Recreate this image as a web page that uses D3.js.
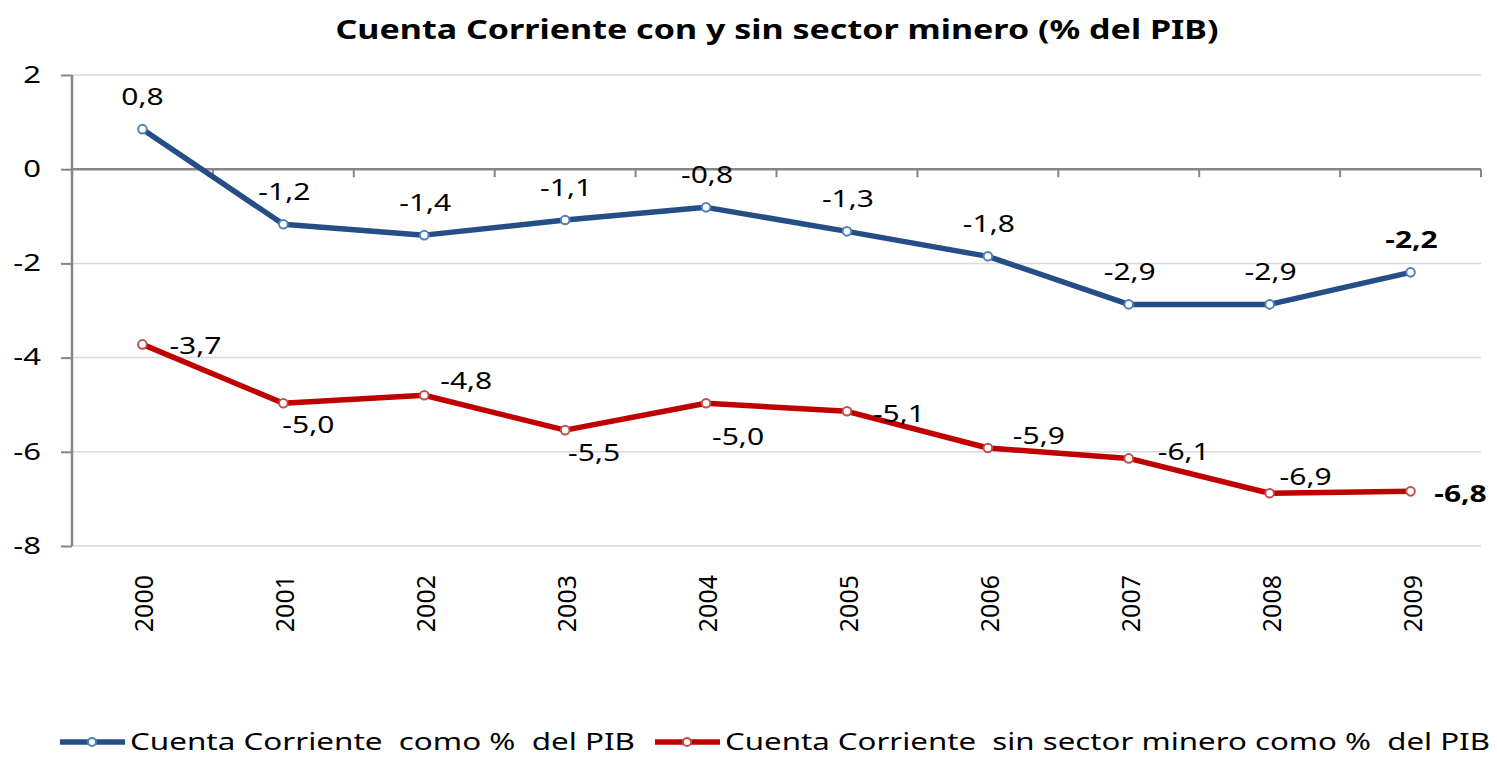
<!DOCTYPE html>
<html>
<head>
<meta charset="utf-8">
<script src="https://cdn.jsdelivr.net/npm/d3@7"></script>
<style>
  body { margin: 0; background: #fff; }
  text { font-family: 'Noto Sans', sans-serif; }
</style>
</head>
<body>
<script>
// data
let years = ['2000', '2001', '2002', '2003', '2004', '2005', '2006', '2007', '2008', '2009'];
let conMinero = [0.85, -1.17, -1.40, -1.08, -0.81, -1.32, -1.85, -2.87, -2.87, -2.19];
let conLabels = ['0,8', '-1,2', '-1,4', '-1,1', '-0,8', '-1,3', '-1,8', '-2,9', '-2,9', '-2,2'];
let sinMinero = [-3.72, -4.97, -4.80, -5.54, -4.97, -5.14, -5.92, -6.14, -6.88, -6.84];
let sinLabels = ['-3,7', '-5,0', '-4,8', '-5,5', '-5,0', '-5,1', '-5,9', '-6,1', '-6,9', '-6,8'];
let yTicks = [2, 0, -2, -4, -6, -8];
let seriesNames = ['Cuenta Corriente  como %  del PIB', 'Cuenta Corriente  sin sector minero como %  del PIB'];

let width = 1497, height = 757;
let svg = d3.select('body').append('svg').attr('width', width).attr('height', height);

let x = d3.scalePoint().domain(years).range([72, 1481]).padding(0.5);
let y = d3.scaleLinear().domain([-8, 2]).range([546, 75]);
let step = x.step();

// widen text the way the original (narrow font, stretched picture) looks
function stretch(sel, k) {
  sel.each(function() {
    let w = this.getComputedTextLength();
    d3.select(this).attr('textLength', w * k).attr('lengthAdjust', 'spacingAndGlyphs');
  });
}

// title
svg.append('text')
  .attr('x', 777).attr('y', 39)
  .attr('text-anchor', 'middle')
  .attr('font-size', 27).attr('font-weight', 'bold')
  .attr('textLength', 883).attr('lengthAdjust', 'spacingAndGlyphs')
  .text('Cuenta Corriente con y sin sector minero (% del PIB)');

// gridlines
svg.append('g').selectAll('line').data(yTicks.filter(d => d !== 0)).enter().append('line')
  .attr('x1', 72).attr('x2', 1481)
  .attr('y1', d => y(d)).attr('y2', d => y(d))
  .attr('stroke', '#d9d9d9').attr('stroke-width', 1.5);

// y axis
let yAxis = svg.append('g').attr('transform', 'translate(72,0)')
  .call(d3.axisLeft(y).tickValues(yTicks).tickSize(11).tickPadding(20).tickFormat(d => d));
yAxis.select('.domain').attr('stroke', '#868686').attr('stroke-width', 2.5).attr('d', 'M0,75V546');
yAxis.selectAll('.tick line').attr('stroke', '#868686').attr('stroke-width', 2);
yAxis.selectAll('.tick text').attr('font-size', 23).attr('fill', '#000').attr('font-family', 'Noto Sans')
  .call(stretch, 1.35);

// zero line with category ticks
svg.append('line')
  .attr('x1', 72).attr('x2', 1481)
  .attr('y1', y(0)).attr('y2', y(0))
  .attr('stroke', '#868686').attr('stroke-width', 2.5);
svg.append('g').selectAll('line').data(years).enter().append('line')
  .attr('x1', d => x(d) + step / 2).attr('x2', d => x(d) + step / 2)
  .attr('y1', y(0)).attr('y2', y(0) + 8)
  .attr('stroke', '#868686').attr('stroke-width', 2);

// year labels
svg.append('g').selectAll('text').data(years).enter().append('text')
  .attr('transform', d => 'translate(' + (x(d) + 11) + ',575) rotate(-90)')
  .attr('text-anchor', 'end')
  .attr('font-family', 'Liberation Sans')
  .attr('font-size', 25)
  .text(d => d);

let series = [
  {vals: conMinero, labels: conLabels, line: '#254e86', mark: '#4f81bd'},
  {vals: sinMinero, labels: sinLabels, line: '#c00000', mark: '#c0504d'}
];

let line = d3.line().x((d, i) => x(years[i])).y(d => y(d));

series.forEach(function(s) {
  svg.append('path').datum(s.vals)
    .attr('d', line)
    .attr('fill', 'none')
    .attr('stroke', s.line)
    .attr('stroke-width', 5.5)
    .attr('stroke-linejoin', 'round');
  svg.append('g').selectAll('circle').data(s.vals).enter().append('circle')
    .attr('cx', (d, i) => x(years[i])).attr('cy', d => y(d))
    .attr('r', 4.3)
    .attr('fill', '#fff')
    .attr('stroke', s.mark).attr('stroke-width', 2);
});

// blue labels: all above
svg.append('g').selectAll('text').data(conMinero).enter().append('text')
  .attr('x', (d, i) => x(years[i]) + (i === 0 ? 0 : 1))
  .attr('y', d => y(d) - 24)
  .attr('text-anchor', 'middle')
  .attr('font-size', 24)
  .attr('font-weight', (d, i) => i === 9 ? 'bold' : 'normal')
  .text((d, i) => conLabels[i])
  .call(stretch, 1.25);

// red labels sit in different spots
let redDx = [53, 25, 42, 29, 32, 52, 51, 55, 36, 50];
let redDy = [10, 30, -6, 31, 42, 11, -4, 2, -8, 11];
svg.append('g').selectAll('text').data(sinMinero).enter().append('text')
  .attr('x', (d, i) => x(years[i]) + redDx[i])
  .attr('y', (d, i) => y(d) + redDy[i])
  .attr('text-anchor', 'middle')
  .attr('font-size', 24)
  .attr('font-weight', (d, i) => i === 9 ? 'bold' : 'normal')
  .text((d, i) => sinLabels[i])
  .call(stretch, 1.25);

// legend
let legX = [60, 655];
let legW = [505, 765];
let legend = svg.append('g').selectAll('g').data(series).enter().append('g')
  .attr('transform', (d, i) => 'translate(' + legX[i] + ',742)');
legend.append('line')
  .attr('x1', 0).attr('x2', 65).attr('y1', 0).attr('y2', 0)
  .attr('stroke', d => d.line).attr('stroke-width', 5.5);
legend.append('circle')
  .attr('cx', 32).attr('cy', 0).attr('r', 4)
  .attr('fill', '#fff').attr('stroke', d => d.mark).attr('stroke-width', 2);
legend.append('text')
  .attr('x', 70).attr('y', 8)
  .attr('font-size', 24)
  .style('white-space', 'pre')
  .attr('textLength', (d, i) => legW[i]).attr('lengthAdjust', 'spacingAndGlyphs')
  .text((d, i) => seriesNames[i]);
</script>
</body>
</html>
